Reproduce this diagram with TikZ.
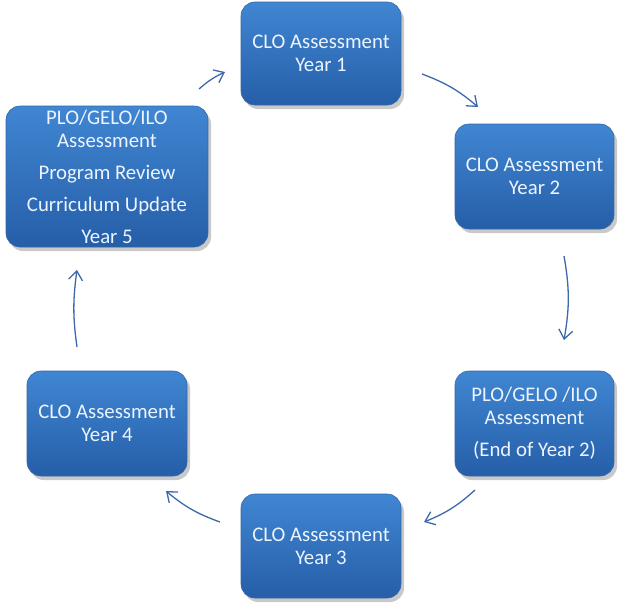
\documentclass[tikz,border=0pt]{standalone}
\usepackage{fontspec}
\setmainfont{Carlito}
\usetikzlibrary{arrows.meta,shadows}
\definecolor{boxtop}{RGB}{64,134,210}
\definecolor{boxbot}{RGB}{38,94,168}
\definecolor{boxline}{RGB}{52,104,170}
\definecolor{arrowc}{RGB}{62,104,172}
\definecolor{txt}{RGB}{236,244,255}
\tikzset{
  stagebox/.style={rounded corners=14pt, top color=boxtop, bottom color=boxbot,
    draw=boxline, line width=0.6pt, text=txt, align=center,
    font=\fontsize{20.8}{23}\selectfont, inner sep=0pt,
    drop shadow={shadow xshift=3pt, shadow yshift=-4pt, opacity=0.35, fill=black!60}},
  flow/.style={draw=arrowc, line width=1.3pt, -{Straight Barb[length=9pt,width=14pt,line width=1.3pt]}}
}
\begin{document}
\begin{tikzpicture}[x=1pt,y=-1pt]
\useasboundingbox (0,0) rectangle (620,605);
\fill[white] (0,0) rectangle (620,605);
\node[stagebox, minimum width=160pt, minimum height=103pt] (y1) at (321,53.5) {CLO Assessment\\Year 1};
\node[stagebox, minimum width=159pt, minimum height=105pt] (y2) at (534.5,176.5) {CLO Assessment\\Year 2};
\node[stagebox, minimum width=159pt, minimum height=105pt] (plo) at (534.5,423.5) {PLO/GELO /ILO\\Assessment\\[9pt](End of Year 2)};
\node[stagebox, minimum width=160pt, minimum height=104pt] (y3) at (321,546) {CLO Assessment\\Year 3};
\node[stagebox, minimum width=160pt, minimum height=105pt] (y4) at (107,423.5) {CLO Assessment\\Year 4};
\node[stagebox, minimum width=202pt, minimum height=141pt] (y5) at (107,176.5) {PLO/GELO/ILO\\Assessment\\[9pt]Program Review\\[9pt]Curriculum Update\\[9pt]Year 5};
\coordinate (a1s) at (422,74);  \coordinate (a1e) at (478,107);
\coordinate (a2s) at (564,256); \coordinate (a2e) at (564,340);
\coordinate (a3s) at (475,490); \coordinate (a3e) at (424,522);
\coordinate (a4s) at (220,522); \coordinate (a4e) at (166,491);
\coordinate (a5s) at (77,347);  \coordinate (a5e) at (77,270);
\coordinate (a6s) at (199,89);  \coordinate (a6e) at (225,72);
\draw[flow] (a1s) to[bend left=10] (a1e);
\draw[flow] (a2s) to[bend left=10] (a2e);
\draw[flow] (a3s) to[bend left=10] (a3e);
\draw[flow] (a4s) to[bend left=10] (a4e);
\draw[flow] (a5s) to[bend left=8] (a5e);
\draw[flow] (a6s) to[bend left=8] (a6e);
\end{tikzpicture}
\end{document}
